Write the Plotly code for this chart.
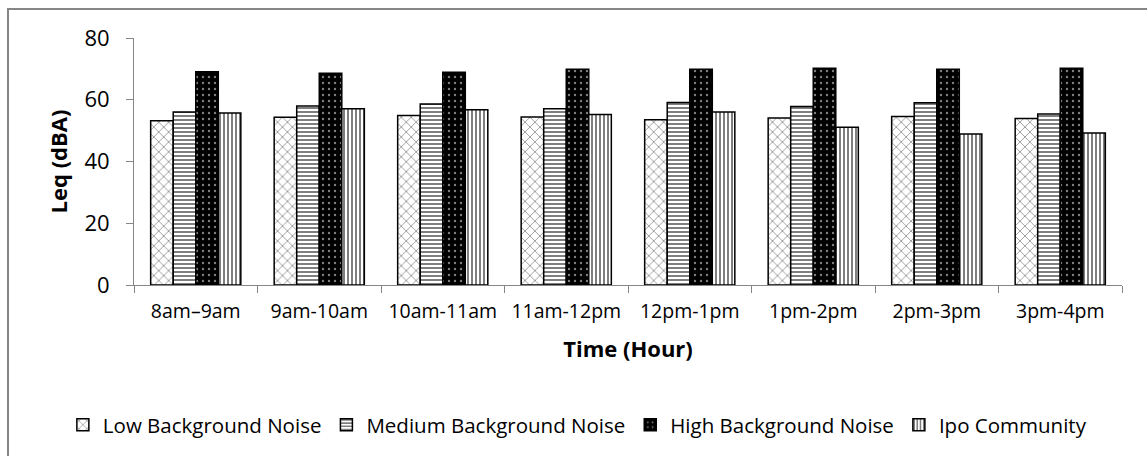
import plotly.graph_objects as go

hours = ["8am\u20139am", "9am-10am", "10am-11am", "11am-12pm",
         "12pm-1pm", "1pm-2pm", "2pm-3pm", "3pm-4pm"]

low_bg = [53.2, 54.3, 54.9, 54.4, 53.5, 54.1, 54.6, 53.9]
medium_bg = [56.0, 58.0, 58.6, 57.1, 59.1, 57.8, 59.0, 55.4]
high_bg = [69.1, 68.6, 68.9, 69.9, 69.9, 70.2, 69.9, 70.2]
ipo = [55.7, 57.1, 56.8, 55.2, 56.0, 51.1, 48.9, 49.2]

series_names = ["Low Background Noise", "Medium Background Noise",
                "High Background Noise", "Ipo Community"]

FONT = "Open Sans"
AXIS_GRAY = "#868686"

patterns = [
    dict(shape="x", fgcolor="black", bgcolor="white", size=7, solidity=0.2),
    dict(shape="-", fgcolor="black", bgcolor="white", size=4, solidity=0.5),
    dict(shape=".", fgcolor="white", bgcolor="black", size=6, solidity=0.12),
    dict(shape="|", fgcolor="black", bgcolor="white", size=4, solidity=0.5),
]

fig = go.Figure()
for name, vals, pat in zip(series_names, [low_bg, medium_bg, high_bg, ipo], patterns):
    fig.add_trace(go.Bar(
        x=hours, y=vals, name=name,
        marker=dict(color="white", pattern=pat,
                    line=dict(color="black", width=1.5)),
    ))

fig.update_layout(
    width=1147, height=456,
    margin=dict(l=134, r=25, t=38, b=170),
    paper_bgcolor="white", plot_bgcolor="white",
    barmode="group", bargap=0.27, bargroupgap=0,
    font=dict(family=FONT, color="black"),
    legend=dict(
        orientation="h", x=-0.072, xanchor="left", y=-0.56, yanchor="middle",
        font=dict(family=FONT, size=20.5, color="black"),
        itemwidth=30, tracegroupgap=0,
    ),
    showlegend=True,
)

fig.update_xaxes(
    showline=True, linecolor=AXIS_GRAY, linewidth=1,
    ticks="outside", tickson="boundaries", ticklen=7, tickcolor=AXIS_GRAY,
    ticklabelstandoff=9,
    tickfont=dict(family=FONT, size=19.5, color="black"),
    showgrid=False,
    title=dict(text="<b>Time (Hour)</b>", font=dict(family=FONT, size=22, color="black"),
               standoff=18),
)
fig.update_yaxes(
    range=[0, 80], dtick=20,
    showline=True, linecolor=AXIS_GRAY, linewidth=1,
    ticks="outside", ticklen=7, tickcolor=AXIS_GRAY,
    ticklabelstandoff=12,
    tickfont=dict(family=FONT, size=22, color="black"),
    showgrid=False, zeroline=False,
    title=dict(text="<b>Leq (dBA)</b>", font=dict(family=FONT, size=22, color="black"),
               standoff=10),
)

# outer chart frame
fig.add_shape(type="rect", xref="paper", yref="paper",
              x0=(8 - 134) / 988, x1=(1160 - 134) / 988,
              y0=(286 - 470) / 248, y1=(286 - 9) / 248,
              line=dict(color=AXIS_GRAY, width=2), fillcolor="rgba(0,0,0,0)",
              layer="below")

fig.write_html("out.html")
